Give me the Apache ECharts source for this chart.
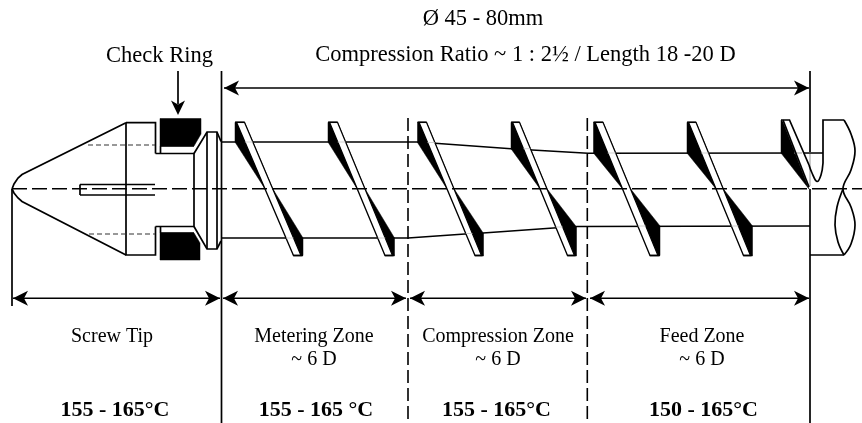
<!DOCTYPE html>
<html><head><meta charset="utf-8">
<style>html,body{margin:0;padding:0;background:#fff}#c{width:862px;height:423px}</style>
<script src="https://cdn.jsdelivr.net/npm/echarts@6/dist/echarts.min.js"></script>
</head><body><div id="c"></div>
<script>
// Screw flights: outer x of the black wedges, x of the white band edges, root height on each side
var wedgeLeft      = [235, 328, 417.5, 511, 593.5, 687];
var wedgeRight     = [303, 394.5, 483.5, 576.5, 660, 752.5];
var flightTopLeft  = [236.5, 329.5, 419, 512.5, 595, 688.5];
var flightTopRight = [244.5, 337.5, 426.5, 519.5, 603, 696];
var flightBotLeft  = [293.5, 385, 475, 567.5, 650, 743.5];
var flightBotRight = [301, 392.5, 481.5, 574.5, 658, 750.5];
var flightRootTop  = [142, 142, 142.5, 148.7, 153, 153];
var flightRootBot  = [238, 238, 233.5, 227, 226, 226];
var flightTop = 122.3, flightBot = 255.5, axisY = 188.7;

// Outlines
var bodyLines = [
  [[126,122.7],[155.5,122.7],[155.5,153.5]],
  [[126,122.7],[126,255],[155.5,255],[155.5,226.5]],
  [[155.5,153.5],[194,153.5],[194,226.5],[155.5,226.5]],
  [[194,153.5],[207,132],[217,132],[221,141.5]],
  [[194,226.5],[207,249],[217,249],[221,241]],
  [[207,132],[207,249]],[[217,132],[217,249]],
  [[80,184.5],[155,184.5]],[[80,195],[155,195]],[[80,184.5],[80,195]],
  [[160.5,146],[160.5,153.5]],[[160.5,226.5],[160.5,233]],
  [[160.5,146],[194,146]],[[160.5,233],[194,233]],
  [[12,189],[12,306]],[[221.5,71],[221.5,423]],[[810,71],[810,152]],[[810,189],[810,423]],
  [[178,71],[178,104]],
  [[810,255],[844,255]]
];
var faintLines = [[[810,154],[810,186]],[[794,153],[802,153]]];
var tipCurves = [
  [[12,189],[14,184],[18,178],[22,174.5],[126,122.7]],
  [[12,189],[14,193],[18,198],[22,201.5],[126,255]]
];
var shaftLines = [
  [[221,142],[417,142],[435,143.3],[511,148.7],[532,150],[588,153.3],[823,153]],
  [[221,238],[408,238],[465,234],[483,233],[557,227.7],[577,226.5],[810,226]]
];
var endFlightFill = [[781,120],[781,153],[809,189],[783,122]];
var endFlightBand = [[783,120],[789.5,120],[809,165],[817,181],[809,187]];
var endFlightEdges = [[[781,120],[789.5,120],[809,165]],[[783,120],[809,187]],[[823,163],[823,120],[844,120]]];
var endBreakTop = [[809,165],[812,173],[817,181.5],[821,175],[823,163]];
var breakCurveRight = [[844,120],[851,134],[855,151],[851,170],[843,189],[851,207],[855,225],[851,244],[844,255]];
var breakCurveLeft = [[843,189],[837,207],[835,225],[838,242],[844,255]];
var ringFills = [
  [[160,118.5],[201,118.5],[201,134],[194,146],[160,146]],
  [[160,233],[194,233],[200,243],[200,260],[160,260]]
];
var hiddenLines = [[[88,145],[155,145]],[[89,234],[155,234]]];
var centerLine = [[12,188.7],[862,188.7]];
var zoneLines = [[[408,118],[408,423]],[[587.3,118],[587.3,423]]];
var dimSpans = [[13,220,298.3],[223,406,298.3],[410,586,298.3],[590,809,298.3],[224,809,88]];
var ringArrow = [178,115];

// Text
var headText = ['Ø 45 - 80mm','Compression Ratio ~ 1 : 2½ / Length 18 -20 D','Check Ring'];
var headX = [483,525.5,159.5];
var headY = [19.5,55,56];
var labelText = ['Screw Tip','Metering Zone','~ 6 D','Compression Zone','~ 6 D','Feed Zone','~ 6 D'];
var labelX = [112,314,314,498,498,702,702];
var labelY = [336.5,336.5,359.5,336.5,359.5,336.5,359.5];
var tempText = ['155 - 165°C','155 - 165 °C','155 - 165°C','150 - 165°C'];
var tempX = [115,316,496.5,703.5];
var tempY = 410;

var lw = 1.7, ink = '#000';
function pts(api, arr){ return arr.map(function(p){ return api.coord(p); }); }
function layer(list, type, style, z, extra){
  return { type:'custom', coordinateSystem:'cartesian2d', z:z, silent:true, clip:false,
    data:list.map(function(_,i){ return [i]; }), encode:{x:0,y:0},
    renderItem:function(params, api){
      var s = {points:pts(api, list[params.dataIndex])};
      if (extra) for (var k in extra) s[k]=extra[k];
      return {type:type, shape:s, style:style};
    }};
}
function leftAt(i,y){ return flightTopLeft[i]+(y-flightTop)*(flightBotLeft[i]-flightTopLeft[i])/(flightBot-flightTop); }
function rightAt(i,y){ return flightTopRight[i]+(y-flightTop)*(flightBotRight[i]-flightTopRight[i])/(flightBot-flightTop); }
var flightBands=[], flightShadow=[], crossings=[], flightCaps=[];
flightTopLeft.forEach(function(x,i){
  flightBands.push([[x,flightTop],[flightTopRight[i],flightTop],[flightBotRight[i],flightBot],[flightBotLeft[i],flightBot]]);
  flightCaps.push([[wedgeLeft[i],flightTop],[flightTopRight[i],flightTop]]);
  flightCaps.push([[flightBotLeft[i],flightBot],[wedgeRight[i],flightBot]]);
  flightShadow.push([[wedgeLeft[i],flightTop],[wedgeLeft[i],flightRootTop[i]],[leftAt(i,axisY),axisY],[rightAt(i,axisY),axisY],[flightTopRight[i],flightTop]]);
  flightShadow.push([[rightAt(i,axisY),axisY],[wedgeRight[i],flightRootBot[i]],[wedgeRight[i],flightBot],[flightBotLeft[i],flightBot]]);
  crossings.push([[leftAt(i,flightRootTop[i]),flightRootTop[i]],[rightAt(i,flightRootTop[i]),flightRootTop[i]]]);
  crossings.push([[leftAt(i,flightRootBot[i]),flightRootBot[i]],[rightAt(i,flightRootBot[i]),flightRootBot[i]]]);
});
var arrowHeads=[], dimLines=[];
dimSpans.forEach(function(d){
  var a=d[0],b=d[1],y=d[2];
  dimLines.push([[a,y],[b,y]]);
  arrowHeads.push([[a,y],[a+15,y-7.5],[a+11,y],[a+15,y+7.5]]);
  arrowHeads.push([[b,y],[b-15,y-7.5],[b-11,y],[b-15,y+7.5]]);
});
arrowHeads.push([ringArrow,[ringArrow[0]-7,ringArrow[1]-14.5],[ringArrow[0],ringArrow[1]-10.5],[ringArrow[0]+7,ringArrow[1]-14.5]]);

function textLayer(texts,xs,ys,font,z){
  return { type:'custom', coordinateSystem:'cartesian2d', z:z, silent:true, clip:false,
    data:texts.map(function(_,i){ return [xs[i], ys[i]]; }), encode:{x:0,y:1},
    renderItem:function(params, api){
      var c=api.coord([api.value(0),api.value(1)]);
      return {type:'text', style:{x:c[0],y:c[1],text:texts[params.dataIndex],font:font,fill:'#000',align:'center',verticalAlign:'middle'}};
    }};
}
var strokeStyle={stroke:ink,fill:null,lineWidth:lw};
var series=[
  layer(shaftLines,'polyline',{stroke:ink,fill:null,lineWidth:1.6},1),
  layer(flightShadow,'polygon',{fill:ink,stroke:ink,lineWidth:.5},2),
  layer([endFlightFill],'polygon',{fill:ink,stroke:ink,lineWidth:.5},2),
  layer(ringFills,'polygon',{fill:ink,stroke:ink,lineWidth:.5},2),
  layer(flightBands,'polygon',{fill:'#fff',stroke:ink,lineWidth:1.3},3),
  layer(flightCaps,'polyline',{stroke:ink,fill:null,lineWidth:1.5},3),
  layer(crossings,'polyline',{stroke:'#c4c4c4',fill:null,lineWidth:.8},4),
  layer([endFlightBand],'polygon',{fill:'#fff'},4),
  layer(faintLines,'polyline',{stroke:'#999',fill:null,lineWidth:1},4),
  layer(endFlightEdges,'polyline',strokeStyle,5),
  layer(bodyLines,'polyline',strokeStyle,5),
  layer([endBreakTop],'polyline',strokeStyle,5,{smooth:.4}),
  layer(tipCurves,'polyline',strokeStyle,5),
  layer([breakCurveRight,breakCurveLeft],'polyline',strokeStyle,5,{smooth:.4}),
  layer(hiddenLines,'polyline',{stroke:'#333',fill:null,lineWidth:1.1,lineDash:[5,3]},5),
  layer(dimLines,'polyline',{stroke:ink,fill:null,lineWidth:1.5},6),
  layer(arrowHeads,'polygon',{fill:ink},6),
  layer([centerLine],'polyline',{stroke:ink,fill:null,lineWidth:1.6,lineDash:[15,5]},7),
  layer(zoneLines,'polyline',{stroke:ink,fill:null,lineWidth:1.6,lineDash:[13,5]},7),
  textLayer(headText,headX,headY,'22.5px "Liberation Serif"',8),
  textLayer(labelText,labelX,labelY,'20px "Liberation Serif"',8),
  textLayer(tempText,tempX,tempText.map(function(){return tempY;}),'bold 22px "Liberation Serif"',8)
];
var chart=echarts.init(document.getElementById('c'),null,{renderer:'canvas'});
chart.setOption({
  animation:false,backgroundColor:'#fff',
  grid:{left:0,right:0,top:0,bottom:0},
  xAxis:{type:'value',min:0,max:862,show:false},
  yAxis:{type:'value',min:0,max:423,inverse:true,show:false},
  series:series
});
</script></body></html>
